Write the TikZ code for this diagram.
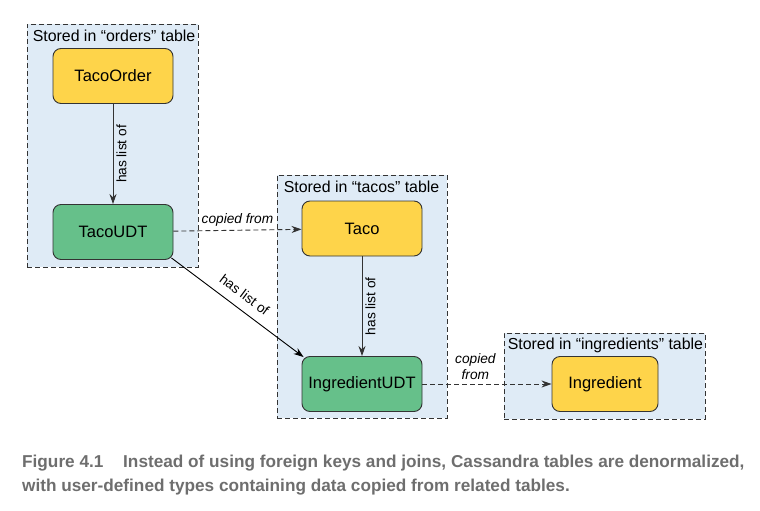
\documentclass[tikz,border=0pt]{standalone}
\usepackage{fontspec}
\setmainfont{Liberation Sans}
\newfontfamily\capfont{Liberation Sans}
\usetikzlibrary{arrows.meta}
\definecolor{yellowfill}{HTML}{FED44A}
\definecolor{greenfill}{HTML}{66C08A}
\definecolor{tablebg}{HTML}{DFEBF6}
\definecolor{edgegray}{HTML}{333333}
\definecolor{captiongray}{HTML}{6E6E6E}
\tikzset{
  tablebox/.style={draw=edgegray, fill=tablebg, dashed, dash pattern=on 5pt off 3pt, line width=0.9pt, inner sep=0pt},
  tabletitle/.style={anchor=north west, inner sep=0pt, font=\fontsize{15.9}{18}\selectfont},
  entity/.style={draw=edgegray, line width=0.9pt, rounded corners=8pt, minimum width=120pt, minimum height=55pt, font=\fontsize{16.5}{19}\selectfont, inner sep=0pt},
  yentity/.style={entity, fill=yellowfill},
  gentity/.style={entity, fill=greenfill},
  rel/.style={draw=edgegray, line width=0.9pt, -{Stealth[length=10pt,width=7pt]}},
  copyrel/.style={rel, dashed, dash pattern=on 5pt off 3pt},
  rellabel/.style={font=\fontsize{13.7}{16}\selectfont, inner sep=3pt},
  copylabel/.style={font=\fontsize{13.7}{16}\selectfont\itshape, inner sep=3pt},
  captionline/.style={anchor=base west, inner sep=0pt, text=captiongray, font=\capfont\bfseries\fontsize{17.2}{20}\selectfont}
}
\begin{document}
\begin{tikzpicture}[x=1pt,y=-1pt]
\useasboundingbox (0,0) rectangle (760,511);
% table boxes
\node[tablebox, minimum width=171pt, minimum height=243pt] (orders) at (112.5,145.5) {};
\node[tablebox, minimum width=170pt, minimum height=243pt] (tacos) at (362,296.5) {};
\node[tablebox, minimum width=201pt, minimum height=86pt] (ingr) at (604.5,376) {};
\node[tabletitle] (orderstitle) at ([xshift=6pt,yshift=-6pt]orders.north west) {Stored in “orders” table};
\node[tabletitle] (tacostitle) at ([xshift=7pt,yshift=-6pt]tacos.north west) {Stored in “tacos” table};
\node[tabletitle] (ingrtitle) at ([xshift=4pt,yshift=-5pt]ingr.north west) {Stored in “ingredients” table};
% entities
\node[yentity] (tacoorder) at (113,76) {TacoOrder};
\node[gentity] (tacoudt) at (113,232) {TacoUDT};
\node[yentity] (taco) at (362,228.5) {Taco};
\node[gentity] (ingudt) at (362,384) {IngredientUDT};
\node[yentity, minimum width=106pt] (ingredient) at (605,384) {Ingredient};
% connectors
\draw[rel] (tacoorder) -- node[rellabel, midway, rotate=90, anchor=north] {has list of} (tacoudt);
\draw[rel] (taco) -- node[rellabel, midway, rotate=90, anchor=north] {has list of} (ingudt);
\draw[rel, draw=black] ([xshift=-2pt,yshift=2pt]tacoudt.south east) -- node[rellabel, midway, sloped, above, yshift=6pt, xshift=-2pt] {has list of} ([xshift=2pt,yshift=-1pt]ingudt.north west);
\draw[copyrel] (tacoudt) -- node[copylabel, midway, above] {copied from} (taco);
\draw[copyrel] (ingudt) -- node[copylabel, pos=0.41, above, align=center, yshift=1pt] {copied\\from} (ingredient);
% caption
\node[captionline] (caption1) at (22,467) {Figure 4.1\hspace{15pt} Instead of using foreign keys and joins, Cassandra tables are denormalized,};
\node[captionline] (caption2) at (22,491) {with user-defined types containing data copied from related tables.};
\end{tikzpicture}
\end{document}
